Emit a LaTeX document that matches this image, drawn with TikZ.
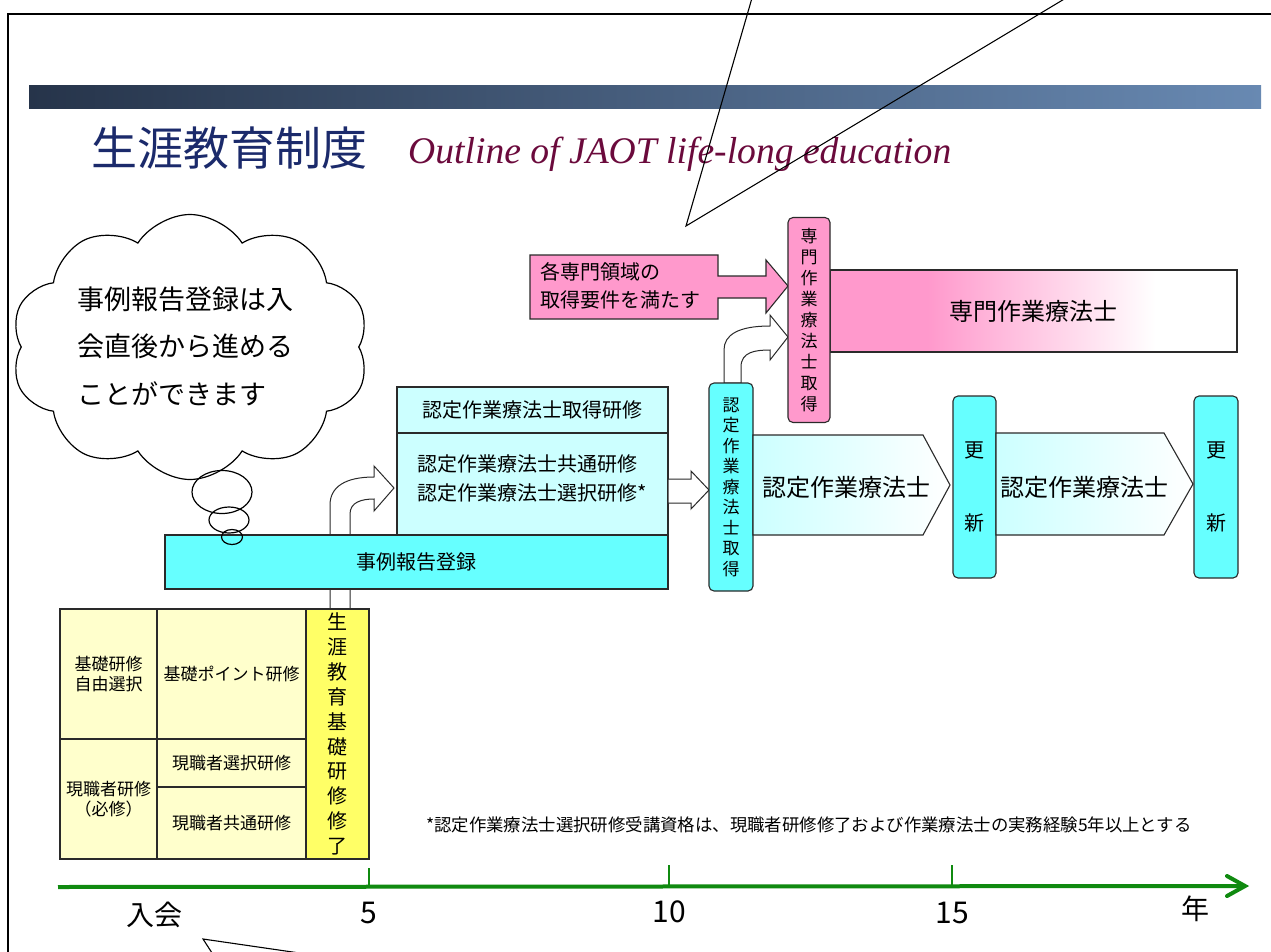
\documentclass[tikz,border=0pt]{standalone}
\usepackage{fontspec}
\setmainfont{Noto Sans CJK JP}
\newfontfamily\titfont{Liberation Serif}
\usetikzlibrary{shapes.symbols,calc}
\definecolor{cy}{HTML}{66FFFF}
\definecolor{lcy}{HTML}{CCFFFF}
\definecolor{pk}{HTML}{FF99CC}
\definecolor{ly}{HTML}{FFFFCC}
\definecolor{yl}{HTML}{FFFF66}
\definecolor{axisg}{HTML}{108A10}
\definecolor{navy}{HTML}{1B2A6B}
\definecolor{maroon}{HTML}{6B0A3C}
\definecolor{barL}{HTML}{26344A}
\definecolor{barR}{HTML}{6889B2}
\definecolor{ol}{HTML}{2A2A2A}
\pgfdeclarehorizontalshading{pinkfade}{100bp}{rgb(0bp)=(1,.6,.8); rgb(37bp)=(1,.6,.8); rgb(65bp)=(1,1,1); rgb(100bp)=(1,1,1)}
\newcommand\fs[2]{\fontsize{#1}{#2}\selectfont}
\begin{document}
\begin{tikzpicture}[x=1pt,y=-1pt,
  box/.style={draw=ol, line width=1.1pt, inner sep=0pt, outer sep=0pt},
  rbar/.style={box, rounded corners=5pt, align=center},
  warrow/.style={draw=ol, fill=white, line width=1pt, line join=miter},
  tcell/.style={box, fill=ly, align=center, font=\fs{17}{20}},
  callout/.style={draw=black, line width=1.1pt},
  tick/.style={draw=axisg, line width=1.8pt}]
\useasboundingbox (0,0) rectangle (1271,952);
\fill[white] (0,0) rectangle (1271,952);
\begin{scope}
\clip (0,0) rectangle (1271,952);
% outer frame
\draw[line width=2.2pt] (8,1000) -- (8,14) -- (1300,14);
% title bar
\shade[left color=barL, right color=barR] (29,86) rectangle (1261,109);
\node[font=\fs{46}{50}, text=navy, anchor=west, inner sep=0pt] (jtitle) at (91,148) {生涯教育制度};
\node[font=\titfont\itshape\fs{37.6}{40}, text=maroon, anchor=base west, inner sep=0pt] (etitle) at (408,164) {Outline of JAOT life-long education};

% cloud
\node[cloud, draw=black, fill=white, line width=1.2pt, cloud puffs=10, cloud puff arc=115, aspect=1.36, minimum width=358, minimum height=265, inner sep=0pt] (cloud) at (190,347) {};
\node[font=\fs{27}{47.5}, align=left, anchor=west, inner sep=0pt] (cloudtext) at (77,346) {事例報告登録は入\\会直後から進める\\ことができます};

% curved arrow from lifelong-basic to certified training
\draw[warrow] (330,609) -- (330,505) .. controls (330,487) and (345,477) .. (374,477) -- (374,466) -- (394,488) -- (374,511) -- (374,499) .. controls (362,499) and (350,502) .. (350,514) -- (350,609) -- cycle;

% case report registration bar
\node[box, fill=cy, minimum width=503, minimum height=54, font=\fs{20}{24}] (jirei) at (416.5,562) {事例報告登録};
% certified training box
\node[box, fill=lcy, minimum width=271, minimum height=46, font=\fs{20}{24}] (ltop) at (532.5,410) {認定作業療法士取得研修};
\node[box, fill=lcy, minimum width=271, minimum height=102] (lbot) at (532.5,484) {};
\node[font=\fs{20}{29}, align=left, anchor=west, inner sep=0pt] (lbottext) at (417,478) {認定作業療法士共通研修\\認定作業療法士選択研修*};

% thought bubbles
\draw[line width=1.2pt] (222,492) ellipse [x radius=30, y radius=21.5];
\draw[line width=1.2pt] (229,520) ellipse [x radius=20, y radius=13];
\draw[line width=1.2pt] (232,537) ellipse [x radius=10.5, y radius=7.5];

% straight arrow to certified OT acquisition
\draw[warrow] (lbot.east |- 0,479) -- (691,479) -- (691,471) -- (709,490) -- (691,509) -- (691,503) -- (lbot.east |- 0,503) -- cycle;

% curved arrow from certified acquisition to specialist acquisition
\draw[warrow] (724,383) -- (724,350) .. controls (724,335) and (738,326) .. (770,326) -- (770,315) -- (788,337) -- (770,360) -- (770,350) .. controls (755,350) and (741,352) .. (741,367) -- (741,383) -- cycle;

% certified OT acquisition bar
\node[rbar, fill=cy, minimum width=44, minimum height=208, font=\fs{17}{20.5}] (nintei) at (731,487) {認\\定\\作\\業\\療\\法\\士\\取\\得};

% pink requirement arrow
\draw[box, fill=pk] (530,255) -- (718,255) -- (718,276) -- (766,276) -- (766,260) -- (788,286) -- (766,313) -- (766,298) -- (718,298) -- (718,319) -- (530,319) -- cycle;
\node[font=\fs{20}{28}, align=left, anchor=west, inner sep=0pt] (pinktext) at (540,286) {各専門領域の\\取得要件を満たす};

% specialist OT box and bar
\node[box, shading=pinkfade, minimum width=407, minimum height=82, font=\fs{24}{28}] (senbox) at (1033.5,311) {専門作業療法士};
\node[rbar, fill=pk, minimum width=42, minimum height=205, font=\fs{17}{20.9}] (senmon) at (809,320) {専\\門\\作\\業\\療\\法\\士\\取\\得};

% certified OT pentagons
\draw[box, left color=lcy, right color=white] (nintei.east |- 0,435) -- (923,435) -- (950,485) -- (923,535) -- (nintei.east |- 0,535) -- cycle;
\node[font=\fs{24}{28}] (pent1) at (846,487) {認定作業療法士};
\node[rbar, fill=cy, minimum width=43, minimum height=182, font=\fs{20}{73}] (kou1) at (974.5,487) {更\\新};
\draw[box, left color=lcy, right color=white] (kou1.east |- 0,433) -- (1164,433) -- (1193,484) -- (1164,535) -- (kou1.east |- 0,535) -- cycle;
\node[font=\fs{24}{28}] (pent2) at (1084,487) {認定作業療法士};
\node[rbar, fill=cy, minimum width=44, minimum height=182, font=\fs{20}{73}] (kou2) at (1216,487) {更\\新};

% basic training table
\node[tcell, minimum width=97, minimum height=130] (ta) at (108.5,674) {基礎研修\\自由選択};
\node[tcell, minimum width=149, minimum height=130] (tb) at (231.5,674) {基礎ポイント研修};
\node[tcell, minimum width=97, minimum height=120] (tc) at (108.5,799) {現職者研修\\（必修）};
\node[tcell, minimum width=149, minimum height=48] (td) at (231.5,763) {現職者選択研修};
\node[tcell, minimum width=149, minimum height=72] (te) at (231.5,823) {現職者共通研修};
\node[tcell, fill=yl, minimum width=63, minimum height=250, font=\fs{20}{24.9}] (tf) at (337.5,734) {生\\涯\\教\\育\\基\\礎\\研\\修\\修\\了};
\draw[draw=ol, line width=2.8pt] (ta.north west) rectangle (tb.south east);

% footnote
\node[font=\fs{17.4}{20}, anchor=west, inner sep=0pt] (note) at (426,825) {*認定作業療法士選択研修受講資格は、現職者研修修了および作業療法士の実務経験5年以上とする};

% time axis
\coordinate (ax0) at (58,887);
\coordinate (ax1) at (1245,886);
\draw[axisg, line width=4pt] (ax0) -- (ax1);
\draw[axisg, line width=4pt, line cap=round, line join=miter] ($(ax1)+(-18,-10)$) -- (ax1) -- ($(ax1)+(-18,10)$);
\draw[tick] (369,868) -- (369,888);
\draw[tick] (669,865) -- (669,886);
\draw[tick] (952,865) -- (952,886);
\node[font=\fs{28}{30}] (l0) at (154,915) {入会};
\node[font=\fs{30}{32}] (l5) at (369,913) {5};
\node[font=\fs{30}{32}] (l10) at (669,912) {10};
\node[font=\fs{30}{32}] (l15) at (952,913) {15};
\node[font=\fs{28}{30}] (lyear) at (1195,909) {年};

% callout pointer lines
\coordinate (cp1) at (686,226);
\coordinate (cpa) at (752,-2);
\coordinate (cpb) at (1066,-2);
\draw[callout] (cpa) -- (cp1) -- (cpb);
\coordinate (cp2) at (203,939);
\coordinate (cpc) at (320,956);
\coordinate (cpd) at (214,956);
\draw[callout] (cpd) -- (cp2) -- (cpc);
\end{scope}
\end{tikzpicture}
\end{document}
